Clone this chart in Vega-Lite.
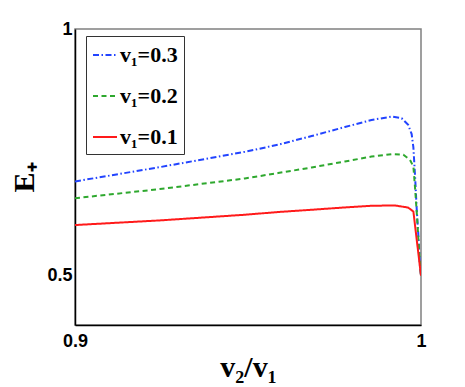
{
  "$schema": "https://vega.github.io/schema/vega-lite/v6.json",
  "autosize": {"type": "none"},
  "padding": {"left": 75, "top": 29, "right": 44, "bottom": 62},
  "width": 346,
  "height": 296,
  "background": "white",
  "config": {
    "view": {"stroke": "#808080", "strokeWidth": 1.5},
    "axis": {"grid": false, "domainColor": "black", "domainWidth": 1.5, "labelFont": "Liberation Sans", "labelFontWeight": "bold", "labelFontSize": 18, "labelColor": "black", "titleFont": "Liberation Serif", "titleFontWeight": "bold", "titleColor": "black", "ticks": false, "format": "~g"}
  },
  "data": {"values": [
    {"s": "v₁=0.3", "x": 0.9, "y": 0.691},
    {"s": "v₁=0.3", "x": 0.9245, "y": 0.720},
    {"s": "v₁=0.3", "x": 0.9491, "y": 0.751},
    {"s": "v₁=0.3", "x": 0.9587, "y": 0.7655},
    {"s": "v₁=0.3", "x": 0.9684, "y": 0.783},
    {"s": "v₁=0.3", "x": 0.978, "y": 0.8013},
    {"s": "v₁=0.3", "x": 0.9857, "y": 0.8155},
    {"s": "v₁=0.3", "x": 0.9915, "y": 0.8225},
    {"s": "v₁=0.3", "x": 0.9944, "y": 0.819},
    {"s": "v₁=0.3", "x": 0.9963, "y": 0.8057},
    {"s": "v₁=0.3", "x": 0.9973, "y": 0.787},
    {"s": "v₁=0.3", "x": 0.9978, "y": 0.760},
    {"s": "v₁=0.3", "x": 0.9983, "y": 0.700},
    {"s": "v₁=0.3", "x": 0.99875, "y": 0.636},
    {"s": "v₁=0.3", "x": 0.9992, "y": 0.586},
    {"s": "v₁=0.3", "x": 0.9997, "y": 0.519},
    {"s": "v₁=0.3", "x": 1.0, "y": 0.5},
    {"s": "v₁=0.2", "x": 0.9, "y": 0.657},
    {"s": "v₁=0.2", "x": 0.9245, "y": 0.6755},
    {"s": "v₁=0.2", "x": 0.9491, "y": 0.697},
    {"s": "v₁=0.2", "x": 0.9587, "y": 0.708},
    {"s": "v₁=0.2", "x": 0.9684, "y": 0.7193},
    {"s": "v₁=0.2", "x": 0.978, "y": 0.7314},
    {"s": "v₁=0.2", "x": 0.9857, "y": 0.7415},
    {"s": "v₁=0.2", "x": 0.9915, "y": 0.7463},
    {"s": "v₁=0.2", "x": 0.9949, "y": 0.745},
    {"s": "v₁=0.2", "x": 0.9968, "y": 0.735},
    {"s": "v₁=0.2", "x": 0.9978, "y": 0.7213},
    {"s": "v₁=0.2", "x": 0.99826, "y": 0.680},
    {"s": "v₁=0.2", "x": 0.99875, "y": 0.630},
    {"s": "v₁=0.2", "x": 0.9992, "y": 0.580},
    {"s": "v₁=0.2", "x": 0.9996, "y": 0.535},
    {"s": "v₁=0.2", "x": 1.0, "y": 0.5},
    {"s": "v₁=0.1", "x": 0.9, "y": 0.6026},
    {"s": "v₁=0.1", "x": 0.9245, "y": 0.612},
    {"s": "v₁=0.1", "x": 0.9491, "y": 0.6235},
    {"s": "v₁=0.1", "x": 0.9587, "y": 0.629},
    {"s": "v₁=0.1", "x": 0.9684, "y": 0.6336},
    {"s": "v₁=0.1", "x": 0.978, "y": 0.6383},
    {"s": "v₁=0.1", "x": 0.9857, "y": 0.6417},
    {"s": "v₁=0.1", "x": 0.9925, "y": 0.6423},
    {"s": "v₁=0.1", "x": 0.9963, "y": 0.638},
    {"s": "v₁=0.1", "x": 0.9978, "y": 0.630},
    {"s": "v₁=0.1", "x": 1.0, "y": 0.5}
  ]},
  "mark": {"type": "line", "strokeWidth": 2, "clip": true},
  "encoding": {
    "x": {"field": "x", "type": "quantitative", "scale": {"domain": [0.9, 1], "nice": false, "zero": false},
      "axis": {"values": [0.9, 1], "labelPadding": 7, "labelAlign": "center", "title": "v₂/v₁", "titleFontSize": 30, "titlePadding": 2, "labelFlush": false}},
    "y": {"field": "y", "type": "quantitative", "scale": {"domain": [0.4, 1], "nice": false, "zero": false},
      "axis": {"values": [0.5, 1], "labelPadding": 3, "title": "E₊", "titleFontSize": 30, "titlePadding": 7, "labelFlush": false}},
    "color": {"field": "s", "type": "nominal", "sort": ["v₁=0.3", "v₁=0.2", "v₁=0.1"],
      "scale": {"domain": ["v₁=0.3", "v₁=0.2", "v₁=0.1"], "range": ["#2244ff", "#2ea82e", "#ff1a1a"]},
      "legend": {"title": null, "orient": "none", "legendX": 11, "legendY": 7, "direction": "vertical",
        "fillColor": "white", "strokeColor": "#333", "padding": 6, "rowPadding": 17,
        "labelFont": "Liberation Serif", "labelFontWeight": "bold", "labelFontSize": 22, "labelColor": "black",
        "symbolType": "stroke", "symbolSize": 576, "symbolStrokeWidth": 2, "labelOffset": 2}},
    "strokeDash": {"field": "s", "type": "nominal", "sort": ["v₁=0.3", "v₁=0.2", "v₁=0.1"],
      "scale": {"domain": ["v₁=0.3", "v₁=0.2", "v₁=0.1"], "range": [[6, 2.5, 1.5, 2.5], [5, 3.5], [1, 0]]},
      "legend": null}
  }
}
